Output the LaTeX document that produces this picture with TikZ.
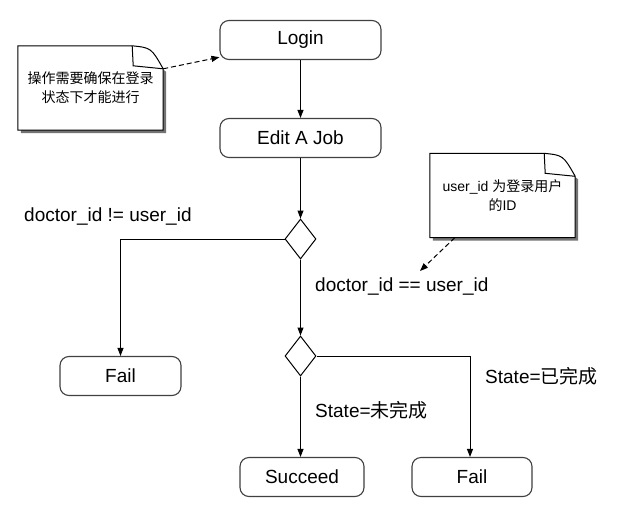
\documentclass[tikz,border=0pt]{standalone}
\usepackage{fontspec}
\setmainfont{Liberation Sans}
\newfontfamily\cjk{Noto Sans CJK SC}
\usetikzlibrary{arrows.meta,shapes.geometric,calc}
\begin{document}
\begin{tikzpicture}[x=1pt,y=-1pt,
  stepbox/.style={draw=black!75, line width=1.1pt, rounded corners=9pt, minimum width=161pt, minimum height=39pt, inner sep=0pt, font=\fontsize{19}{21}\selectfont, fill=white},
  dia/.style={draw=black, line width=1pt, diamond, minimum width=31pt, minimum height=40pt, inner sep=0pt, fill=white},
  arr/.style={draw=black, line width=1pt, -{Triangle[length=8pt,width=6pt]}},
  darr/.style={draw=black, line width=1pt, dash pattern=on 5pt off 3pt, -{Triangle[length=8pt,width=6pt]}},
  lbl/.style={anchor=west, inner sep=0pt, font=\fontsize{19}{21}\selectfont},
  notebox/.style={minimum width=145pt, minimum height=84pt, inner sep=0pt, align=center, font=\cjk\fontsize{14}{19}\selectfont}
]
\useasboundingbox (0,0) rectangle (617,513);

% notes
\node[notebox] (n1) at (90.5,88) {};
\node[notebox] (n2) at (502.5,195.5) {};
\foreach \n in {n1,n2}{
  \fill[black!55] ($(\n.north west)+(3,3)$) -- ($(\n.north east)+(-28,3)$) -- ($(\n.north east)+(3,26)$) -- ($(\n.south east)+(3,3)$) -- ($(\n.south west)+(3,3)$) -- cycle;
  \filldraw[fill=white, draw=black, line width=1pt] (\n.north west) -- ($(\n.north east)+(-31,0)$) .. controls ($(\n.north east)+(-12,2)$) .. ($(\n.north east)+(0,23)$) -- (\n.south east) -- (\n.south west) -- cycle;
  \draw[black, line width=1pt] ($(\n.north east)+(-31,0)$) -- ($(\n.north east)+(-30,20)$) -- ($(\n.north east)+(0,23)$);
}
\node[notebox] (t1) at (n1) {操作需要确保在登录\\状态下才能进行};
\node[notebox, font=\fontsize{14}{19}\selectfont] (t2) at (n2) {user\_id {\cjk 为登录用户}\\{\cjk 的}ID};

% main nodes
\node[stepbox] (login) at (300.5,40) {Login};
\node[stepbox] (edit) at (300.5,138) {Edit A Job};
\node[dia] (d1) at (300.5,239) {};
\node[dia] (d2) at (300.5,356) {};
\node[stepbox, minimum width=121pt] (fail1) at (120.5,376) {Fail};
\node[stepbox, minimum width=124pt] (succ) at (302,477) {Succeed};
\node[stepbox, minimum width=120pt] (fail2) at (472,477) {Fail};

% labels
\node[lbl] (l1) at (24,217) {doctor\_id != user\_id};
\node[lbl] (l2) at (315,287) {doctor\_id == user\_id};
\node[lbl] (l3) at (485,376) {State={\cjk 已完成}};
\node[lbl] (l4) at (315,410) {State={\cjk 未完成}};

% connectors
\draw[arr] (login) -- (edit);
\draw[arr] (edit) -- (d1);
\draw[arr] (d1.west) -| (fail1.north);
\draw[arr] (d1.south) -- (d2.north);
\draw[arr] (d2.east) -| ($(fail2.north)+(-2,0)$);
\draw[arr] (d2.south) -- (succ.north -| d2.south);

\coordinate (c1) at ($(n1.north east)+(0,23)$);
\draw[darr] (c1) -- (login.192);
\coordinate (c2) at (420,271);
\draw[darr] ($(n2.south west)+(25,0)$) -- (c2);
\end{tikzpicture}
\end{document}
